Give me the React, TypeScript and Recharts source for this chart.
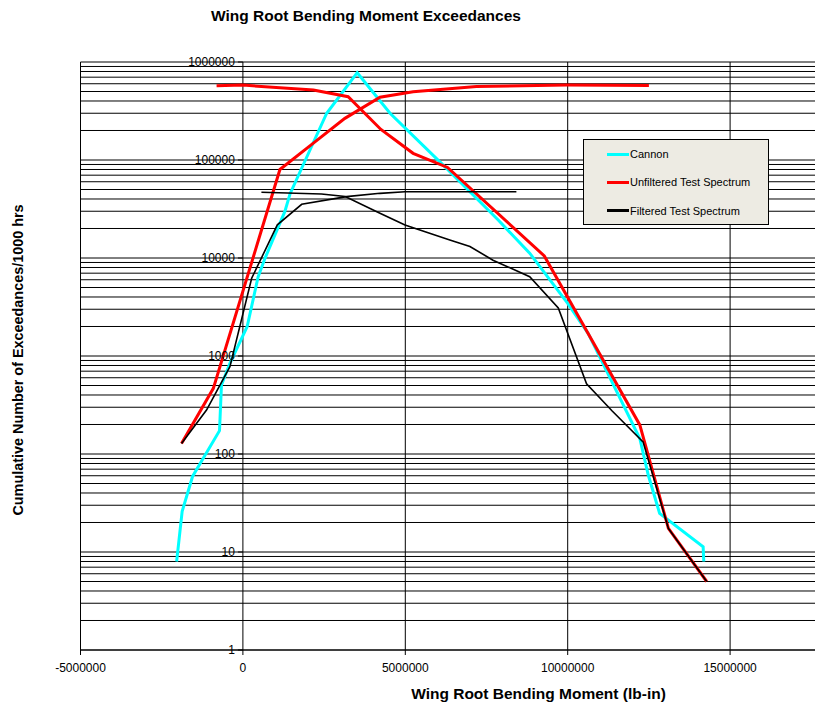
import React from "react";
import {
  LineChart,
  Line,
  XAxis,
  YAxis,
  CartesianGrid,
  Legend,
  Label,
} from "recharts";

// series: x = bending moment (lb-in), y = exceedances / 1000 hrs
const CANNON_X = [
  -2040000, -1870000, -1550000, -720000, -660000, -400000, 130000, 470000, 680000,
  1290000, 1450000, 2580000, 3520000, 4530000, 6270000, 7860000, 8830000, 10000000,
  10630000, 12220000, 12480000, 12830000, 14170000, 14190000,
];
const CANNON_Y = [
  8, 26, 59, 173, 506, 843, 1990, 6450, 9930, 29700, 45000, 300000, 778000, 300000,
  82000, 24400, 11200, 3450, 1700, 144, 61, 24.8, 11.3, 8,
];

// unfiltered spectrum: rising branch and falling branch
const UNF_UP_X = [-1890000, -910000, 1140000, 2160000, 3140000, 4220000, 5240000, 7190000, 9960000, 12500000];
const UNF_UP_Y = [128, 468, 80000, 148000, 266000, 437000, 497000, 561000, 581000, 575000];
const UNF_DOWN_X = [-810000, 0, 2170000, 3240000, 4250000, 5240000, 6300000, 9280000, 12220000, 13100000, 14280000];
const UNF_DOWN_Y = [574000, 581000, 518000, 443000, 205000, 117000, 84000, 10500, 198, 17.4, 5.0];

// filtered spectrum
const FIL_UP_X = [-1890000, -1120000, -400000, 270000, 1060000, 1810000, 3190000, 4220000, 4990000, 8420000];
const FIL_UP_Y = [128, 281, 778, 6210, 21800, 35300, 42300, 45700, 47500, 47500];
const FIL_DOWN_X = [
  570000, 2420000, 3150000, 4220000, 4990000, 6370000, 6990000, 7700000, 8830000,
  9710000, 10580000, 11370000, 12320000, 13100000, 14280000,
];
const FIL_DOWN_Y = [
  46800, 45000, 42500, 28600, 21700, 15300, 13100, 9500, 6440, 3100, 520, 275, 133, 17.4, 5.0,
];

const X_TICKS = [-5000000, 0, 5000000, 10000000, 15000000];
const X_DOMAIN = [-5000000, 20000000];
const Y_MAJOR = [1, 10, 100, 1000, 10000, 100000, 1000000];
const Y_MINOR_STEPS = [2, 3, 4, 5, 6, 7, 8, 9];

const LEGEND_ITEMS = [
  { name: "Cannon", color: "#00FFFF" },
  { name: "Unfiltered Test Spectrum", color: "#FF0000" },
  { name: "Filtered Test Spectrum", color: "#000000" },
];

const pts = (xs: number[], ys: number[]) => xs.map((x, i) => ({ x, y: ys[i] }));

const Y_TICKS = Y_MAJOR.flatMap((d) =>
  d === 1000000 ? [d] : [d, ...Y_MINOR_STEPS.map((s) => s * d)]
);

const FONT = '"Liberation Sans", Arial, sans-serif';
const [X_MIN, X_MAX] = X_DOMAIN;

// plot box (runs past the right edge, as in the cropped original)
const CHART_W = 900;
const CHART_H = 707;
const PLOT_LEFT = 80.5;
const PLOT_W = 812;
const ZERO_X = PLOT_LEFT + (PLOT_W * (0 - X_MIN)) / (X_MAX - X_MIN);

// y labels sit on the x = 0 line, like the Excel original
function YTick(props: any) {
  const { y, payload } = props;
  if (!Y_MAJOR.includes(payload.value)) return null;
  return (
    <g>
      <line x1={ZERO_X - 5} x2={ZERO_X} y1={y} y2={y} stroke="#000" />
      <text
        x={ZERO_X - 8}
        y={y}
        textAnchor="end"
        dominantBaseline="central"
        fontSize={12}
        fontFamily={FONT}
        fill="#000"
      >
        {payload.value}
      </text>
    </g>
  );
}

function LegendBox() {
  return (
    <div
      style={{
        width: 186,
        height: 86,
        boxSizing: "border-box",
        background: "#EDEBE3",
        border: "1px solid #000",
        fontFamily: FONT,
        fontSize: 11,
        position: "relative",
      }}
    >
      {LEGEND_ITEMS.map((it, i) => (
        <div
          key={it.name}
          style={{
            position: "absolute",
            left: 23,
            top: 6 + i * 28.4,
            height: 16,
            display: "flex",
            alignItems: "center",
            whiteSpace: "nowrap",
          }}
        >
          <span style={{ display: "inline-block", width: 22, height: 3, background: it.color }} />
          <span style={{ marginLeft: 1, color: "#000" }}>{it.name}</span>
        </div>
      ))}
    </div>
  );
}

export default function App() {
  return (
    <div
      style={{
        position: "absolute",
        left: 0,
        top: 0,
        width: 815,
        height: 707,
        overflow: "hidden",
        background: "#fff",
      }}
    >
      <div
        style={{
          position: "absolute",
          left: 0,
          top: 7,
          width: 732,
          textAlign: "center",
          fontFamily: FONT,
          fontWeight: "bold",
          fontSize: 15.5,
          lineHeight: "18px",
        }}
      >
        Wing Root Bending Moment Exceedances
      </div>
      <LineChart
        width={CHART_W}
        height={CHART_H}
        margin={{ top: 62, right: CHART_W - PLOT_LEFT - PLOT_W, bottom: 0, left: 0.5 }}
      >
        <CartesianGrid stroke="#000" strokeWidth={1} />
        <XAxis
          type="number"
          dataKey="x"
          domain={X_DOMAIN}
          ticks={X_TICKS}
          allowDataOverflow
          height={57}
          tickSize={5}
          tickMargin={8}
          stroke="#000"
          tick={{ fontSize: 12, fill: "#000", fontFamily: FONT }}
        >
          <Label
            value="Wing Root Bending Moment (lb-in)"
            position="insideBottom"
            offset={8}
            dx={52}
            style={{ fontSize: 15.5, fontWeight: "bold", fill: "#000", fontFamily: FONT }}
          />
        </XAxis>
        <YAxis
          type="number"
          dataKey="y"
          scale="log"
          domain={[1, 1000000]}
          ticks={Y_TICKS}
          allowDataOverflow
          width={80}
          axisLine={false}
          tickLine={false}
          tick={<YTick />}
          interval={0}
        >
          <Label
            value="Cumulative Number of Exceedances/1000 hrs"
            position="center"
            angle={-90}
            dx={-22.5}
            dy={4}
            style={{ fontSize: 14.4, fontWeight: "bold", fill: "#000", fontFamily: FONT, textAnchor: "middle" }}
          />
        </YAxis>
        <Line
          data={pts(CANNON_X, CANNON_Y)}
          dataKey="y"
          name="Cannon"
          stroke="#00FFFF"
          strokeWidth={3}
          dot={false}
          isAnimationActive={false}
        />
        <Line
          data={pts(UNF_UP_X, UNF_UP_Y)}
          dataKey="y"
          name="Unfiltered Test Spectrum"
          stroke="#FF0000"
          strokeWidth={3}
          dot={false}
          isAnimationActive={false}
        />
        <Line
          data={pts(UNF_DOWN_X, UNF_DOWN_Y)}
          dataKey="y"
          name="Unfiltered Test Spectrum (2)"
          legendType="none"
          stroke="#FF0000"
          strokeWidth={3}
          dot={false}
          isAnimationActive={false}
        />
        <Line
          data={pts(FIL_UP_X, FIL_UP_Y)}
          dataKey="y"
          name="Filtered Test Spectrum"
          stroke="#000000"
          strokeWidth={1.6}
          dot={false}
          isAnimationActive={false}
        />
        <Line
          data={pts(FIL_DOWN_X, FIL_DOWN_Y)}
          dataKey="y"
          name="Filtered Test Spectrum (2)"
          legendType="none"
          stroke="#000000"
          strokeWidth={1.6}
          dot={false}
          isAnimationActive={false}
        />
        <Legend
          layout="vertical"
          align="center"
          verticalAlign="middle"
          wrapperStyle={{ left: 583, top: 139, width: 186, height: 86 }}
          content={() => <LegendBox />}
        />
      </LineChart>
    </div>
  );
}
